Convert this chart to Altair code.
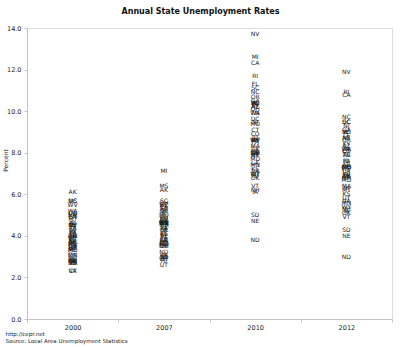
import altair as alt
import pandas as pd

years = ["2000", "2007", "2010", "2012"]
states = ["AL", "AK", "AZ", "AR", "CA", "CO", "CT", "DE", "DC", "FL", "GA", "HI", "ID",
          "IL", "IN", "IA", "KS", "KY", "LA", "ME", "MD", "MA", "MI", "MN", "MS", "MO",
          "MT", "NE", "NV", "NH", "NJ", "NM", "NY", "NC", "ND", "OH", "OK", "OR", "PA",
          "RI", "SC", "SD", "TN", "TX", "UT", "VT", "VA", "WA", "WV", "WI", "WY"]
rate_2000 = [4.6, 6.1, 4.0, 4.4, 4.9, 2.8, 2.3, 3.5, 5.7, 3.8, 3.5, 4.0, 4.6,
             4.5, 2.9, 2.8, 3.8, 4.2, 5.0, 3.3, 3.6, 2.7, 3.7, 3.1, 5.7, 3.3,
             4.8, 2.8, 4.5, 2.8, 3.7, 5.0, 4.5, 3.7, 2.9, 4.0, 3.1, 5.1, 4.2,
             4.2, 3.6, 2.7, 4.0, 4.4, 3.4, 2.7, 2.3, 5.2, 5.5, 3.4, 3.9]
rate_2007 = [4.0, 6.2, 3.8, 5.3, 5.4, 3.8, 4.6, 3.5, 5.5, 4.1, 4.6, 2.8, 3.0,
             5.1, 4.6, 3.8, 4.1, 5.5, 3.8, 4.6, 3.6, 4.5, 7.1, 4.6, 6.4, 5.0,
             3.6, 3.0, 4.8, 3.6, 4.3, 3.5, 4.6, 4.7, 3.2, 5.6, 4.3, 5.2, 4.4,
             5.2, 5.7, 3.0, 4.8, 4.4, 2.6, 4.0, 3.1, 4.6, 4.6, 4.9, 2.9]
rate_2010 = [10.4, 7.9, 10.2, 8.0, 12.3, 8.9, 9.1, 8.0, 9.6, 11.3, 10.5, 6.9, 8.7,
             10.4, 10.3, 6.1, 7.2, 10.3, 7.5, 8.1, 7.7, 8.3, 12.6, 7.4, 10.4, 9.4,
             7.0, 4.7, 13.7, 6.2, 9.5, 8.0, 8.6, 10.9, 3.8, 10.1, 6.8, 10.7, 8.5,
             11.7, 11.1, 5.0, 9.9, 8.2, 7.9, 6.4, 7.1, 9.9, 8.6, 8.6, 7.0]
rate_2012 = [7.9, 6.9, 8.3, 7.4, 10.8, 8.1, 8.1, 6.9, 9.5, 8.9, 9.1, 6.3, 7.6,
             9.0, 8.2, 5.2, 6.0, 8.4, 7.1, 7.3, 6.7, 6.4, 8.7, 5.6, 9.0, 7.3,
             6.2, 4.0, 11.9, 5.3, 9.3, 6.8, 8.7, 9.7, 3.0, 7.3, 5.1, 8.6, 7.6,
             10.9, 9.5, 4.3, 7.9, 6.9, 5.8, 4.9, 5.7, 8.2, 7.2, 7.0, 5.4]
y_ticks = [0, 2, 4, 6, 8, 10, 12, 14]

rows = []
for yr, vals in zip(years, [rate_2000, rate_2007, rate_2010, rate_2012]):
    for s, v in zip(states, vals):
        rows.append({"year": yr, "state": s, "rate": v})
df = pd.DataFrame(rows)

FONT = "DejaVu Sans"
AXIS_COLOR = "#c4c4c4"
TEXT_COLOR = "#222222"

chart = alt.Chart(df).mark_text(
    font=FONT, fontSize=6, color=TEXT_COLOR, align="center", baseline="middle"
).encode(
    x=alt.X("year:N", sort=years,
            scale=alt.Scale(paddingInner=0, paddingOuter=0),
            axis=alt.Axis(
                title=["http://cepr.net", "Source: Local Area Unemployment Statistics"],
                titleFont=FONT, titleFontSize=5.5, titleFontWeight="normal",
                titleColor=TEXT_COLOR, titleAnchor="start", titleAlign="left",
                titleBaseline="alphabetic", titleX=-22, titleY=16, titleLineHeight=7.6,
                labelAngle=0, labelFont=FONT, labelFontSize=6.5, labelColor=TEXT_COLOR,
                labelPadding=2, tickBand="extent", tickSize=3,
                tickColor=AXIS_COLOR, domainColor=AXIS_COLOR, grid=False)),
    y=alt.Y("rate:Q",
            scale=alt.Scale(domain=[0, 14], nice=False, zero=True),
            axis=alt.Axis(
                values=y_ticks, format=".1f", title="Percent",
                titleFont=FONT, titleFontSize=6, titleFontWeight="normal",
                titleColor=TEXT_COLOR, titleX=-19, titleY=132, titleAlign="center",
                labelFont=FONT, labelFontSize=6.5, labelColor=TEXT_COLOR,
                labelPadding=3, tickSize=3,
                tickColor=AXIS_COLOR, domainColor=AXIS_COLOR, grid=False)),
    text="state:N",
).properties(
    width=365,
    height=291,
    title=alt.TitleParams("Annual State Unemployment  Rates", font=FONT, fontSize=8,
                          fontWeight="bold", color="#111111", anchor="middle",
                          dx=-9, offset=9),
    autosize=alt.AutoSizeParams(type="none"),
    padding={"left": 27, "top": 28, "right": 8, "bottom": 28},
).configure_view(stroke=None).configure(background="white")

chart.save("out.html", embed_options={"renderer": "svg", "actions": False})
